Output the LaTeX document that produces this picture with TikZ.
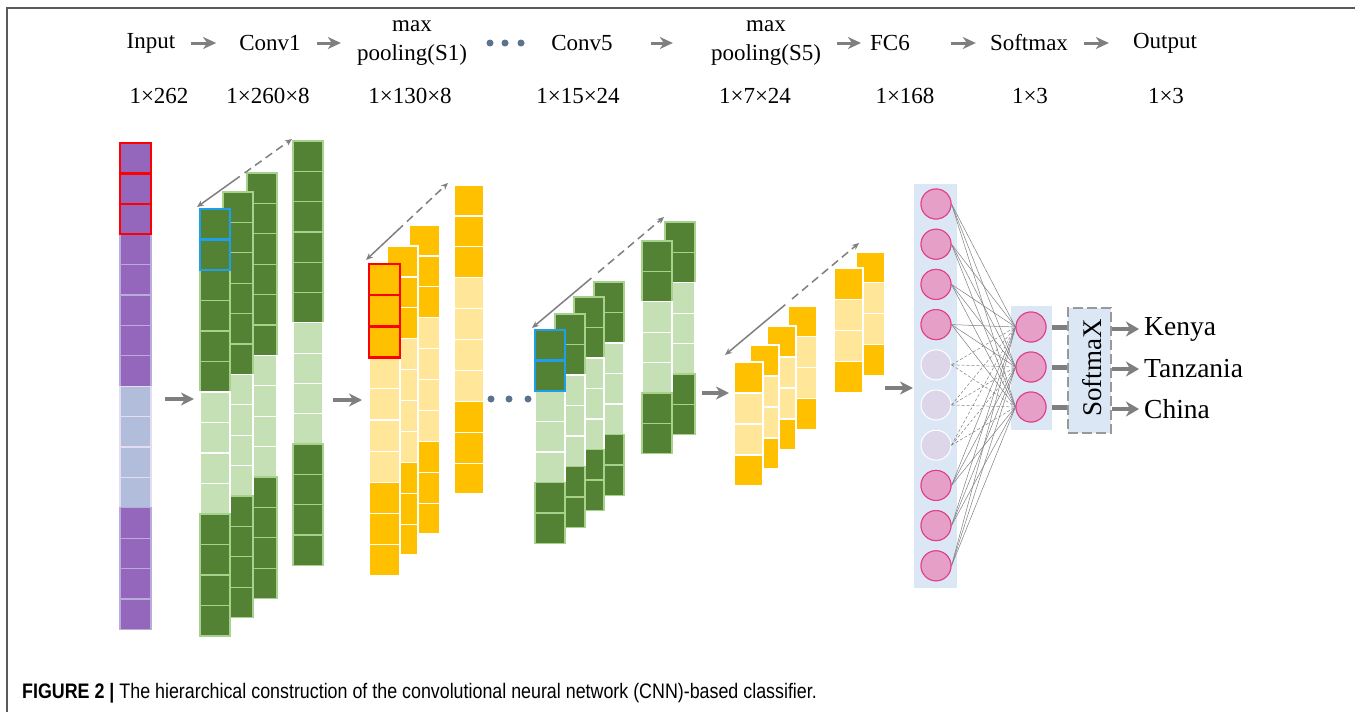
\documentclass[tikz,border=0pt]{standalone}
\usepackage{fontspec}
\setmainfont{Liberation Serif}
\newfontfamily\capfont[FakeStretch=0.85]{Liberation Sans}
\usepackage{tikz}
\usetikzlibrary{positioning, arrows.meta, calc}

\definecolor{pdark}{HTML}{9467BD}
\definecolor{pedge}{HTML}{B9ABDB}
\definecolor{plight}{HTML}{B1BDDB}
\definecolor{gdark}{HTML}{548235}
\definecolor{gedge}{HTML}{A9D18E}
\definecolor{glight}{HTML}{C5E0B4}
\definecolor{ydark}{HTML}{FFC000}
\definecolor{ylight}{HTML}{FFE699}
\definecolor{boxred}{HTML}{FF0000}
\definecolor{boxblue}{HTML}{1F9FEA}
\definecolor{panelblue}{HTML}{DBE7F4}
\definecolor{pinkfill}{HTML}{E6A0C8}
\definecolor{pinkedge}{HTML}{E33D88}
\definecolor{fadefill}{HTML}{DDD6E9}
\definecolor{arrgray}{HTML}{7F7F7F}
\definecolor{dotblue}{HTML}{5B7291}
\definecolor{framegray}{HTML}{5A5A5A}

\tikzstyle{larrow} = [line width=3.5pt, draw=arrgray, -{Stealth[length=13pt,width=13pt,inset=4pt]}]
\tikzstyle{harrow} = [line width=3pt, draw=arrgray, -{Stealth[length=13pt,width=12pt,inset=4pt]}]

% one column of a feature map: name, left, top, width, height, cell kinds
\newcommand{\fmcol}[6]{%
  \foreach \kind [count=\i] in {#6}
    \node[fmcell, \kind, minimum width=#4pt, minimum height=#5pt]
      (#1-\i) at (#2, {#3+(\i-1)*#5}) {};
}

% half solid, half dashed double arrow over a feature map
\newcommand{\dimarrow}[2]{%
  \draw[dimline, {Stealth[length=7pt,width=6pt]}-] (#1) -- ($(#1)!0.45!(#2)$);
  \draw[dimline, dash pattern=on 8pt off 5pt, -{Stealth[length=7pt,width=6pt]}]
    ($(#1)!0.5!(#2)$) -- (#2);
}

\begin{document}
\begin{tikzpicture}[
        x=1pt, y=-1pt,
        fmcell/.style={rectangle, inner sep=0pt, outer sep=0pt, anchor=north west, line width=1.2pt},
        pd/.style={fill=pdark, draw=pedge},
        pl/.style={fill=plight, draw=pedge!40!white},
        dg/.style={fill=gdark, draw=gedge},
        lg/.style={fill=glight, draw=white},
        yd/.style={fill=ydark, draw=white},
        yl/.style={fill=ylight, draw=white},
        redbox/.style={draw=boxred, line width=2.5pt},
        bluebox/.style={draw=boxblue, line width=2.5pt},
        dimline/.style={draw=arrgray, line width=1.5pt},
        headlab/.style={inner sep=0pt, font=\fontsize{23}{29}\selectfont, align=center},
        outlab/.style={inner sep=0pt, anchor=west, font=\fontsize{27.5}{30}\selectfont},
        panel/.style={rectangle, fill=panelblue, inner sep=0pt},
        neuron/.style={circle, minimum size=30pt, inner sep=0pt, fill=pinkfill, draw=pinkedge, line width=1pt},
        offneuron/.style={neuron, fill=fadefill, draw=white},
        fcline/.style={draw=arrgray, line width=0.5pt},
        smbox/.style={rectangle, fill=panelblue, draw=arrgray!80, line width=1.5pt, dash pattern=on 10pt off 4pt,
                      inner sep=0pt, minimum width=43pt, minimum height=125pt},
        sline/.style={draw=arrgray, line width=5pt},
        oarrow/.style={draw=arrgray, line width=4pt, -{Stealth[length=13pt,width=15pt,inset=4pt]}},
        hdot/.style={circle, fill=dotblue, inner sep=0pt, minimum size=7pt}
    ]
    \useasboundingbox (0,0) rectangle (1355,712);
    \draw[framegray, line width=2pt] (7,712) -- (7,8) -- (1355,8);

    % Header
    \node[headlab] (hin)  at (151,43)  {Input};
    \node[headlab] (hc1)  at (270,43)  {Conv1};
    \node[headlab] (hp1)  at (412,43)  {max\\pooling(S1)};
    \node[headlab] (hc5)  at (582,43)  {Conv5};
    \node[headlab] (hp5)  at (766,43)  {max\\pooling(S5)};
    \node[headlab] (hfc)  at (890,43)  {FC6};
    \node[headlab] (hsm)  at (1029,43) {Softmax};
    \node[headlab] (hout) at (1165,43) {Output};
    \node[hdot] (hd1) at (490,43) {};
    \node[hdot] (hd2) at (505,43) {};
    \node[hdot] (hd3) at (521,43) {};

    \draw[harrow, shorten <=16pt, shorten >=23pt] (hin) -- (hc1);
    \draw[harrow, shorten <=16pt, shorten >=16pt] (hc1) -- (hp1);
    \draw[harrow, shorten <=38pt, shorten >=38pt] (hc5) -- (hp5);
    \draw[harrow, shorten <=16pt, shorten >=9pt] (hp5) -- (hfc);
    \draw[harrow, shorten <=41pt, shorten >=14pt] (hfc) -- (hsm);
    \draw[harrow, shorten <=16pt, shorten >=24pt] (hsm) -- (hout);

    \node[headlab] (din)  at (159,96)  {1×262};
    \node[headlab] (dc1)  at (268,96)  {1×260×8};
    \node[headlab] (dp1)  at (410,96)  {1×130×8};
    \node[headlab] (dc5)  at (578,96)  {1×15×24};
    \node[headlab] (dp5)  at (755,96)  {1×7×24};
    \node[headlab] (dfc)  at (905,96)  {1×168};
    \node[headlab] (dsm)  at (1030,96) {1×3};
    \node[headlab] (dout) at (1166,96) {1×3};

    % Input
    \fmcol{in}{120}{143}{31}{30.4}{pd,pd,pd,pd,pd,pd,pd,pd,pl,pl,pl,pl,pd,pd,pd,pd}
    \foreach \i in {1,2,3}
        \draw[redbox] (in-\i.north west) rectangle (in-\i.south east);

    % Conv1
    \fmcol{c1d}{293}{141}{30}{30.3}{dg,dg,dg,dg,dg,dg,lg,lg,lg,lg,dg,dg,dg,dg}
    \fmcol{c1c}{247}{173}{30}{30.4}{dg,dg,dg,dg,dg,dg,lg,lg,lg,lg,dg,dg,dg,dg}
    \fmcol{c1b}{223}{192}{30}{30.4}{dg,dg,dg,dg,dg,dg,lg,lg,lg,lg,dg,dg,dg,dg}
    \fmcol{c1a}{200}{209}{30}{30.5}{dg,dg,dg,dg,dg,dg,lg,lg,lg,lg,dg,dg,dg,dg}
    \foreach \i in {1,2}
        \draw[bluebox] (c1a-\i.north west) rectangle (c1a-\i.south east);
    \coordinate (c1s) at ([shift={(-3,-2)}]c1a-1.north west);
    \coordinate (c1e) at ([shift={(-1,-2)}]c1d-1.north west);
    \dimarrow{c1s}{c1e}

    % max pooling S1
    \fmcol{p1d}{454}{185}{30}{30.9}{yd,yd,yd,yl,yl,yl,yl,yd,yd,yd}
    \fmcol{p1c}{409}{225}{31}{30.9}{yd,yd,yd,yl,yl,yl,yl,yd,yd,yd}
    \fmcol{p1b}{387}{246}{31}{30.9}{yd,yd,yd,yl,yl,yl,yl,yd,yd,yd}
    \fmcol{p1a}{369}{264}{31}{31.2}{yd,yd,yd,yl,yl,yl,yl,yd,yd,yd}
    \foreach \i in {1,2,3}
        \draw[redbox] (p1a-\i.north west) rectangle (p1a-\i.south east);
    \coordinate (p1s) at ([shift={(-3,-4)}]p1a-1.north west);
    \coordinate (p1e) at ([shift={(-6,-2)}]p1d-1.north west);
    \dimarrow{p1s}{p1e}

    \node[hdot] (ld1) at (491,399) {};
    \node[hdot] (ld2) at (509,399) {};
    \node[hdot] (ld3) at (528,399) {};

    % Conv5
    \fmcol{c5d}{594}{282}{30}{30.5}{dg,dg,lg,lg,lg,dg,dg}
    \fmcol{c5c}{574}{297}{30}{30.5}{dg,dg,lg,lg,lg,dg,dg}
    \fmcol{c5b}{555}{314}{30}{30.5}{dg,dg,lg,lg,lg,dg,dg}
    \fmcol{c5a}{535}{330}{30}{30.5}{dg,dg,lg,lg,lg,dg,dg}
    \fmcol{c5f}{665}{222}{30}{30.4}{dg,dg,lg,lg,lg,dg,dg}
    \fmcol{c5e}{642}{241}{30}{30.4}{dg,dg,lg,lg,lg,dg,dg}
    \foreach \i in {1,2}
        \draw[bluebox] (c5a-\i.north west) rectangle (c5a-\i.south east);
    \coordinate (c5s) at ([shift={(-3,-2)}]c5a-1.north west);
    \coordinate (c5t) at ([shift={(-1,-5)}]c5f-1.north west);
    \dimarrow{c5s}{c5t}

    % max pooling S5
    \fmcol{p5d}{788}{306}{29}{30.8}{yd,yl,yl,yd}
    \fmcol{p5c}{767}{326}{29}{31}{yd,yl,yl,yd}
    \fmcol{p5b}{750}{345}{29}{31}{yd,yl,yl,yd}
    \fmcol{p5a}{734}{362}{29}{31}{yd,yl,yl,yd}
    \fmcol{p5f}{856}{252}{29}{30.8}{yd,yl,yl,yd}
    \fmcol{p5e}{834}{268}{29}{31.2}{yd,yl,yl,yd}
    \coordinate (p5s) at ([shift={(-9,-7)}]p5a-1.north west);
    \coordinate (p5t) at ([shift={(3,-9)}]p5f-1.north west);
    \dimarrow{p5s}{p5t}

    % Layer arrows
    \coordinate (a1s) at (165,399); \coordinate (a1e) at (194,399);
    \coordinate (a2s) at (333,400); \coordinate (a2e) at (362,400);
    \coordinate (a3s) at (702,393); \coordinate (a3e) at (729,393);
    \coordinate (a4s) at (885,388); \coordinate (a4e) at (913,388);
    \draw[larrow] (a1s) -- (a1e);
    \draw[larrow] (a2s) -- (a2e);
    \draw[larrow] (a3s) -- (a3e);
    \draw[larrow] (a4s) -- (a4e);

    % FC6 and output neurons
    \node[panel, minimum width=43pt, minimum height=404pt] (fcpanel) at (935.5,386) {};
    \node[panel, minimum width=41pt, minimum height=124pt] (midpanel) at (1031.5,368) {};
    \foreach \i in {1,2,3,4,8,9,10}
        \node[neuron] (f\i) at (936, {204+40.2*(\i-1)}) {};
    \foreach \i in {5,6,7}
        \node[offneuron] (f\i) at (936, {204+40.2*(\i-1)}) {};
    \foreach \j in {1,2,3}
        \node[neuron] (m\j) at (1031, {327+40*(\j-1)}) {};

    \foreach \i in {1,2,3,4,8,9,10}
        \foreach \j in {1,2,3}
            \draw[fcline] (f\i.east) -- (m\j.west);
    \foreach \i in {5,6,7}
        \foreach \j in {1,2,3}
            \draw[fcline, dash pattern=on 3pt off 2pt] (f\i.east) -- (m\j.west);
    \foreach \i in {1,2,3,4,8,9,10}
        \node[neuron] at (f\i) {};
    \foreach \j in {1,2,3}
        \node[neuron] at (m\j) {};

    % Softmax
    \node[smbox] (smax) at (1089.5,370.5) {};
    \node[rotate=90, inner sep=0pt, font=\fontsize{27}{30}\selectfont] (smtxt) at (1092,368) {SoftmaX};
    \node[outlab] (ken) at (1144,329) {Kenya};
    \node[outlab] (tan) at (1144,369) {Tanzania};
    \node[outlab] (chn) at (1144,409) {China};
    \foreach \j in {1,2,3}
        \draw[sline] (midpanel.east |- m\j) -- (smax.west |- m\j);
    \draw[oarrow, shorten >=5pt] (smax.east |- ken.west) -- (ken.west);
    \draw[oarrow, shorten >=5pt] (smax.east |- tan.west) -- (tan.west);
    \draw[oarrow, shorten >=5pt] (smax.east |- chn.west) -- (chn.west);

    % Caption
    \node[anchor=west, inner sep=0pt, font=\capfont\fontsize{21}{24}\selectfont] (caption) at (22,693)
        {\textbf{FIGURE 2 |} The hierarchical construction of the convolutional neural network (CNN)-based classifier.};
\end{tikzpicture}
\end{document}
